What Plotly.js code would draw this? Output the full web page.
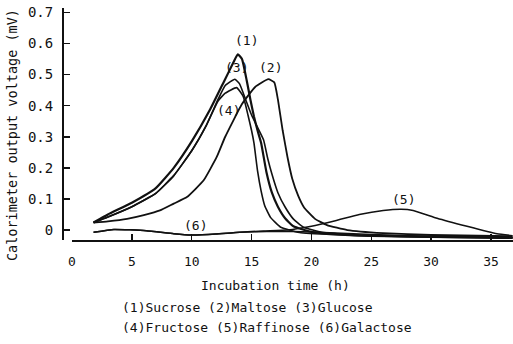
<!DOCTYPE html>
<html>
<head>
<meta charset="utf-8">
<script src="https://cdn.plot.ly/plotly-3.0.1.min.js"></script>
<style>html,body{margin:0;padding:0;background:#fff;}#chart{width:513px;height:344px;}</style>
</head>
<body>
<div id="chart"></div>
<script>
// Incubation time (h) and calorimeter output voltage (mV) for each sugar
const sucroseT   = [1.8, 3, 5, 7, 8.5, 10, 11.5, 12.7, 13.5, 13.85, 14.2, 14.6, 14.9, 15.2, 15.5, 15.8, 16.25, 16.7, 17.2, 17.8, 18.5, 20, 24, 30, 36.8];
const sucroseV   = [0.024, 0.05, 0.088, 0.135, 0.2, 0.285, 0.385, 0.478, 0.54, 0.565, 0.55, 0.48, 0.42, 0.365, 0.32, 0.28, 0.185, 0.12, 0.075, 0.038, 0.012, -0.006, -0.017, -0.022, -0.025];
const maltoseT   = [1.8, 3, 4.6, 6, 7.35, 8.5, 9.6, 11, 12.1, 12.8, 14.2, 15.3, 16.4, 16.9, 17.2, 17.6, 18.0, 18.4, 18.9, 19.4, 20.3, 21.3, 23, 26, 30, 36.8];
const maltoseV   = [0.024, 0.028, 0.036, 0.048, 0.063, 0.085, 0.106, 0.16, 0.236, 0.3, 0.405, 0.46, 0.485, 0.475, 0.42, 0.32, 0.235, 0.165, 0.11, 0.072, 0.036, 0.016, 0.0, -0.01, -0.016, -0.02];
const glucoseT   = [1.8, 3, 5, 7, 8.5, 10, 11.2, 12.2, 12.8, 13.6, 14.0, 14.5, 15.0, 15.5, 16.0, 16.35, 16.7, 17.2, 17.8, 18.5, 19.3, 21, 25, 30, 36.8];
const glucoseV   = [0.024, 0.042, 0.075, 0.118, 0.175, 0.255, 0.335, 0.42, 0.465, 0.485, 0.47, 0.42, 0.37, 0.33, 0.29, 0.23, 0.18, 0.12, 0.074, 0.035, 0.01, -0.008, -0.018, -0.022, -0.024];
const fructoseT  = [1.8, 3, 5, 7, 8.5, 10, 11.2, 12.2, 12.8, 13.75, 14.3, 14.7, 15.0, 15.2, 15.5, 15.8, 16.1, 16.6, 17.4, 19, 25, 36.8];
const fructoseV  = [0.024, 0.042, 0.075, 0.118, 0.175, 0.255, 0.335, 0.415, 0.44, 0.458, 0.43, 0.37, 0.32, 0.28, 0.19, 0.125, 0.078, 0.04, 0.01, -0.008, -0.02, -0.026];
const raffinoseT = [1.8, 3.5, 6.2, 8.5, 10, 12, 14, 16, 18, 20, 22, 24, 26, 27.5, 28.5, 30.5, 33, 35.5, 36.8];
const raffinoseV = [-0.007, 0.002, -0.002, -0.012, -0.016, -0.013, -0.007, -0.003, 0.0, 0.012, 0.03, 0.05, 0.063, 0.067, 0.063, 0.038, 0.012, -0.012, -0.018];
const galactoseT = [1.8, 3.5, 6.2, 8.5, 10, 12, 14, 17, 20, 25, 30, 36.8];
const galactoseV = [-0.007, 0.002, -0.002, -0.012, -0.016, -0.013, -0.007, -0.004, -0.006, -0.014, -0.02, -0.024];

const curveLabels = ['(1)', '(2)', '(3)', '(4)', '(5)', '(6)'];
const labelT = [14.6, 16.6, 13.75, 13.05, 27.7, 10.3];
const labelV = [0.61, 0.524, 0.524, 0.383, 0.098, 0.016];

const yTicks = [0, 0.1, 0.2, 0.3, 0.4, 0.5, 0.6, 0.7];
const yTickText = ['0', '0.1', '0.2', '0.3', '0.4', '0.5', '0.6', '0.7'];
const xTicks = [0, 5, 10, 15, 20, 25, 30, 35];

const xTitle = 'Incubation time (h)';
const yTitle = 'Calorimeter output voltage (mV)';
const captionLine1 = '(1)Sucrose (2)Maltose (3)Glucose';
const captionLine2 = '(4)Fructose (5)Raffinose (6)Galactose';

const FONT = 'DejaVu Sans Mono, monospace';
const line = (w) => ({color: '#111', width: w, shape: 'spline', smoothing: 0.4});

const series = [
  [sucroseT, sucroseV, 'Sucrose', 2.2],
  [maltoseT, maltoseV, 'Maltose', 1.8],
  [glucoseT, glucoseV, 'Glucose', 1.6],
  [fructoseT, fructoseV, 'Fructose', 1.6],
  [raffinoseT, raffinoseV, 'Raffinose', 1.5],
  [galactoseT, galactoseV, 'Galactose', 1.5]
];
const data = series.map(s => ({x: s[0], y: s[1], name: s[2], type: 'scatter', mode: 'lines', line: line(s[3]), hoverinfo: 'skip'}));

const annotations = curveLabels.map((t, i) => ({
  x: labelT[i], y: labelV[i], xref: 'x', yref: 'y', text: t, showarrow: false,
  font: {family: FONT, size: 13, color: '#111'}
}));
const txt = (text, x, y, xanchor, size, angle) => ({
  x: x, y: y, xref: 'paper', yref: 'paper', xanchor: xanchor, yanchor: 'middle',
  text: text, showarrow: false, textangle: angle || 0, borderpad: 0,
  font: {family: FONT, size: size, color: '#111'}
});
annotations.push(txt(xTitle, 0.473, -0.194, 'center', 13));
annotations.push(txt(yTitle, -0.113, 0.453, 'center', 13.5, -90));
annotations.push(txt(captionLine1, 0.128, -0.289, 'left', 13));
annotations.push(txt(captionLine2, 0.128, -0.379, 'left', 13));

const layout = {
  width: 513, height: 344,
  margin: {l: 63, r: 0, t: 8, b: 104},
  paper_bgcolor: '#fff', plot_bgcolor: '#fff',
  showlegend: false,
  font: {family: FONT, color: '#111'},
  xaxis: {
    domain: [0.02, 1], range: [0, 36.84],
    tickvals: xTicks, ticks: 'inside', ticklen: 6, tickwidth: 1.5, tickcolor: '#111',
    showline: true, linecolor: '#111', linewidth: 2, showgrid: false, zeroline: false,
    tickfont: {family: FONT, size: 13, color: '#111'}, ticklabelstandoff: 8
  },
  yaxis: {
    range: [-0.032, 0.714], anchor: 'free', position: 0,
    tickvals: yTicks, ticktext: yTickText, ticks: 'inside', ticklen: 6, tickwidth: 1.5, tickcolor: '#111',
    showline: true, linecolor: '#111', linewidth: 2, showgrid: false, zeroline: false,
    tickfont: {family: FONT, size: 14, color: '#111'}, ticklabelstandoff: 6
  },
  annotations: annotations
};

Plotly.newPlot('chart', data, layout, {staticPlot: true, displayModeBar: false});
</script>
</body>
</html>
